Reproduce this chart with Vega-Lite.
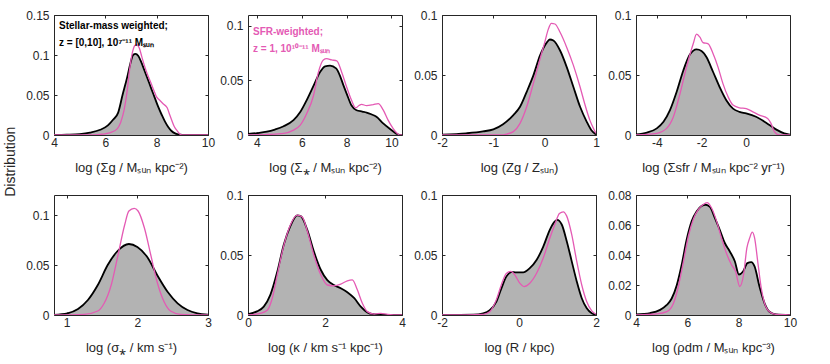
{
"$schema": "https://vega.github.io/schema/vega-lite/v6.json",
"background": "white",
"padding": {"left": 4, "top": 8, "right": 5, "bottom": 5},
"title": {"text": "Distribution", "orient": "left", "anchor": "middle", "fontSize": 14, "fontWeight": "normal", "font": "Liberation Sans", "color": "#262626", "offset": 7, "dx": 20},
"columns": 4,
"spacing": {"row": 60, "column": 40},
"bounds": "flush",
"datasets": {
"p1": [
{"s":"m","x":4.0,"y":0},{"s":"m","x":4.5,"y":0.0004},{"s":"m","x":5.0,"y":0.0012},{"s":"m","x":5.4,"y":0.003},{"s":"m","x":5.8,"y":0.0065},{"s":"m","x":6.1,"y":0.012},{"s":"m","x":6.3,"y":0.019},{"s":"m","x":6.5,"y":0.028},{"s":"m","x":6.67,"y":0.05},{"s":"m","x":6.85,"y":0.072},{"s":"m","x":6.98,"y":0.09},{"s":"m","x":7.08,"y":0.1},{"s":"m","x":7.18,"y":0.1015},{"s":"m","x":7.28,"y":0.099},{"s":"m","x":7.4,"y":0.091},{"s":"m","x":7.52,"y":0.081},{"s":"m","x":7.65,"y":0.07},{"s":"m","x":7.79,"y":0.058},{"s":"m","x":7.92,"y":0.047},{"s":"m","x":8.05,"y":0.036},{"s":"m","x":8.2,"y":0.025},{"s":"m","x":8.32,"y":0.017},{"s":"m","x":8.45,"y":0.01},{"s":"m","x":8.58,"y":0.005},{"s":"m","x":8.72,"y":0.002},{"s":"m","x":8.85,"y":0.0008},{"s":"m","x":9.0,"y":0.0002},{"s":"m","x":10.0,"y":0},
{"s":"s","x":4.0,"y":0},{"s":"s","x":5.5,"y":0},{"s":"s","x":5.8,"y":0.0008},{"s":"s","x":6.0,"y":0.0015},{"s":"s","x":6.2,"y":0.003},{"s":"s","x":6.47,"y":0.008},{"s":"s","x":6.6,"y":0.016},{"s":"s","x":6.73,"y":0.031},{"s":"s","x":6.85,"y":0.055},{"s":"s","x":6.93,"y":0.078},{"s":"s","x":7.06,"y":0.104},{"s":"s","x":7.15,"y":0.112},{"s":"s","x":7.22,"y":0.113},{"s":"s","x":7.33,"y":0.108},{"s":"s","x":7.42,"y":0.098},{"s":"s","x":7.52,"y":0.087},{"s":"s","x":7.65,"y":0.075},{"s":"s","x":7.79,"y":0.064},{"s":"s","x":7.9,"y":0.055},{"s":"s","x":7.99,"y":0.048},{"s":"s","x":8.1,"y":0.044},{"s":"s","x":8.25,"y":0.039},{"s":"s","x":8.41,"y":0.034},{"s":"s","x":8.5,"y":0.026},{"s":"s","x":8.58,"y":0.019},{"s":"s","x":8.68,"y":0.011},{"s":"s","x":8.78,"y":0.006},{"s":"s","x":8.88,"y":0.002},{"s":"s","x":8.98,"y":0},{"s":"s","x":10.0,"y":0}
],
"p2": [
{"s":"m","x":3.6,"y":0.001},{"s":"m","x":4.0,"y":0.0018},{"s":"m","x":4.44,"y":0.003},{"s":"m","x":4.8,"y":0.005},{"s":"m","x":5.19,"y":0.008},{"s":"m","x":5.63,"y":0.0136},{"s":"m","x":5.93,"y":0.021},{"s":"m","x":6.22,"y":0.032},{"s":"m","x":6.52,"y":0.045},{"s":"m","x":6.81,"y":0.0576},{"s":"m","x":7.04,"y":0.063},{"s":"m","x":7.26,"y":0.0636},{"s":"m","x":7.53,"y":0.061},{"s":"m","x":7.7,"y":0.0545},{"s":"m","x":7.85,"y":0.046},{"s":"m","x":8.0,"y":0.038},{"s":"m","x":8.22,"y":0.027},{"s":"m","x":8.44,"y":0.0227},{"s":"m","x":8.7,"y":0.0215},{"s":"m","x":8.89,"y":0.0206},{"s":"m","x":9.1,"y":0.019},{"s":"m","x":9.33,"y":0.0167},{"s":"m","x":9.63,"y":0.0106},{"s":"m","x":10.0,"y":0.0045},{"s":"m","x":10.2,"y":0.0015},{"s":"m","x":10.37,"y":0},{"s":"m","x":10.47,"y":0},
{"s":"s","x":3.6,"y":0},{"s":"s","x":4.5,"y":0.0005},{"s":"s","x":5.19,"y":0.0015},{"s":"s","x":5.63,"y":0.0045},{"s":"s","x":5.93,"y":0.009},{"s":"s","x":6.22,"y":0.0197},{"s":"s","x":6.52,"y":0.036},{"s":"s","x":6.74,"y":0.0576},{"s":"s","x":6.96,"y":0.0688},{"s":"s","x":7.11,"y":0.07},{"s":"s","x":7.33,"y":0.0688},{"s":"s","x":7.56,"y":0.068},{"s":"s","x":7.78,"y":0.0576},{"s":"s","x":8.0,"y":0.044},{"s":"s","x":8.22,"y":0.0318},{"s":"s","x":8.41,"y":0.0248},{"s":"s","x":8.55,"y":0.027},{"s":"s","x":8.67,"y":0.028},{"s":"s","x":8.89,"y":0.027},{"s":"s","x":9.19,"y":0.0279},{"s":"s","x":9.41,"y":0.0288},{"s":"s","x":9.63,"y":0.023},{"s":"s","x":9.85,"y":0.0136},{"s":"s","x":10.07,"y":0.006},{"s":"s","x":10.25,"y":0.0015},{"s":"s","x":10.37,"y":0},{"s":"s","x":10.47,"y":0}
],
"p3": [
{"s":"m","x":-2.0,"y":0.0003},{"s":"m","x":-1.53,"y":0.0014},{"s":"m","x":-1.2,"y":0.003},{"s":"m","x":-1.0,"y":0.0047},{"s":"m","x":-0.81,"y":0.009},{"s":"m","x":-0.61,"y":0.0166},{"s":"m","x":-0.48,"y":0.0235},{"s":"m","x":-0.35,"y":0.036},{"s":"m","x":-0.22,"y":0.0497},{"s":"m","x":-0.09,"y":0.0663},{"s":"m","x":0.04,"y":0.077},{"s":"m","x":0.1,"y":0.0796},{"s":"m","x":0.17,"y":0.0787},{"s":"m","x":0.3,"y":0.0704},{"s":"m","x":0.43,"y":0.0566},{"s":"m","x":0.56,"y":0.04},{"s":"m","x":0.69,"y":0.0235},{"s":"m","x":0.82,"y":0.011},{"s":"m","x":0.91,"y":0.004},{"s":"m","x":1.0,"y":0.0005},
{"s":"s","x":-2.0,"y":0},{"s":"s","x":-0.87,"y":0},{"s":"s","x":-0.74,"y":0.0008},{"s":"s","x":-0.61,"y":0.0028},{"s":"s","x":-0.48,"y":0.0097},{"s":"s","x":-0.35,"y":0.0235},{"s":"s","x":-0.22,"y":0.043},{"s":"s","x":-0.09,"y":0.0635},{"s":"s","x":0.0,"y":0.077},{"s":"s","x":0.07,"y":0.088},{"s":"s","x":0.13,"y":0.093},{"s":"s","x":0.2,"y":0.0925},{"s":"s","x":0.3,"y":0.0856},{"s":"s","x":0.43,"y":0.073},{"s":"s","x":0.56,"y":0.058},{"s":"s","x":0.69,"y":0.04},{"s":"s","x":0.78,"y":0.026},{"s":"s","x":0.88,"y":0.0124},{"s":"s","x":0.95,"y":0.0055},{"s":"s","x":1.0,"y":0.0014}
],
"p4": [
{"s":"m","x":-4.93,"y":0.0005},{"s":"m","x":-4.44,"y":0.002},{"s":"m","x":-4.0,"y":0.0055},{"s":"m","x":-3.7,"y":0.011},{"s":"m","x":-3.41,"y":0.0207},{"s":"m","x":-3.11,"y":0.036},{"s":"m","x":-2.81,"y":0.054},{"s":"m","x":-2.52,"y":0.067},{"s":"m","x":-2.22,"y":0.0713},{"s":"m","x":-2.0,"y":0.07},{"s":"m","x":-1.78,"y":0.065},{"s":"m","x":-1.48,"y":0.0525},{"s":"m","x":-1.19,"y":0.04},{"s":"m","x":-0.89,"y":0.029},{"s":"m","x":-0.59,"y":0.022},{"s":"m","x":-0.3,"y":0.0193},{"s":"m","x":0.0,"y":0.018},{"s":"m","x":0.44,"y":0.0152},{"s":"m","x":0.89,"y":0.0102},{"s":"m","x":1.33,"y":0.0047},{"s":"m","x":1.7,"y":0.0014},{"s":"m","x":1.96,"y":0.0003},
{"s":"s","x":-4.93,"y":0},{"s":"s","x":-4.0,"y":0.0014},{"s":"s","x":-3.56,"y":0.0055},{"s":"s","x":-3.26,"y":0.015},{"s":"s","x":-2.96,"y":0.0345},{"s":"s","x":-2.67,"y":0.0566},{"s":"s","x":-2.37,"y":0.076},{"s":"s","x":-2.22,"y":0.084},{"s":"s","x":-2.07,"y":0.0815},{"s":"s","x":-1.93,"y":0.077},{"s":"s","x":-1.7,"y":0.076},{"s":"s","x":-1.48,"y":0.0677},{"s":"s","x":-1.26,"y":0.0566},{"s":"s","x":-1.04,"y":0.0428},{"s":"s","x":-0.81,"y":0.0318},{"s":"s","x":-0.59,"y":0.0249},{"s":"s","x":-0.3,"y":0.0227},{"s":"s","x":0.0,"y":0.022},{"s":"s","x":0.3,"y":0.0193},{"s":"s","x":0.59,"y":0.0166},{"s":"s","x":0.96,"y":0.0138},{"s":"s","x":1.11,"y":0.0097},{"s":"s","x":1.26,"y":0.0028},{"s":"s","x":1.48,"y":0},{"s":"s","x":1.96,"y":0}
],
"p5": [
{"s":"m","x":0.82,"y":0.0002},{"s":"m","x":1.01,"y":0.0017},{"s":"m","x":1.16,"y":0.006},{"s":"m","x":1.3,"y":0.015},{"s":"m","x":1.44,"y":0.03},{"s":"m","x":1.58,"y":0.05},{"s":"m","x":1.72,"y":0.064},{"s":"m","x":1.88,"y":0.071},{"s":"m","x":2.0,"y":0.068},{"s":"m","x":2.14,"y":0.058},{"s":"m","x":2.28,"y":0.04},{"s":"m","x":2.43,"y":0.023},{"s":"m","x":2.57,"y":0.0117},{"s":"m","x":2.71,"y":0.005},{"s":"m","x":2.85,"y":0.0017},{"s":"m","x":3.0,"y":0.0003},
{"s":"s","x":0.82,"y":0},{"s":"s","x":1.25,"y":0.0007},{"s":"s","x":1.44,"y":0.004},{"s":"s","x":1.53,"y":0.0117},{"s":"s","x":1.63,"y":0.03},{"s":"s","x":1.72,"y":0.058},{"s":"s","x":1.82,"y":0.09},{"s":"s","x":1.88,"y":0.104},{"s":"s","x":1.955,"y":0.1067},{"s":"s","x":2.01,"y":0.104},{"s":"s","x":2.1,"y":0.087},{"s":"s","x":2.19,"y":0.06},{"s":"s","x":2.28,"y":0.033},{"s":"s","x":2.38,"y":0.013},{"s":"s","x":2.47,"y":0.004},{"s":"s","x":2.61,"y":0.0007},{"s":"s","x":3.0,"y":0}
],
"p6": [
{"s":"m","x":0.0,"y":0.0006},{"s":"m","x":0.23,"y":0.003},{"s":"m","x":0.41,"y":0.007},{"s":"m","x":0.58,"y":0.0168},{"s":"m","x":0.76,"y":0.036},{"s":"m","x":0.93,"y":0.0587},{"s":"m","x":1.1,"y":0.074},{"s":"m","x":1.28,"y":0.083},{"s":"m","x":1.37,"y":0.0824},{"s":"m","x":1.54,"y":0.071},{"s":"m","x":1.71,"y":0.053},{"s":"m","x":1.89,"y":0.0377},{"s":"m","x":2.06,"y":0.029},{"s":"m","x":2.23,"y":0.025},{"s":"m","x":2.41,"y":0.0223},{"s":"m","x":2.58,"y":0.019},{"s":"m","x":2.76,"y":0.014},{"s":"m","x":2.93,"y":0.007},{"s":"m","x":3.1,"y":0.0022},{"s":"m","x":3.28,"y":0.0006},{"s":"m","x":4.0,"y":0},
{"s":"s","x":0.0,"y":0},{"s":"s","x":0.32,"y":0.0014},{"s":"s","x":0.5,"y":0.004},{"s":"s","x":0.63,"y":0.014},{"s":"s","x":0.76,"y":0.0335},{"s":"s","x":0.93,"y":0.058},{"s":"s","x":1.1,"y":0.075},{"s":"s","x":1.28,"y":0.0832},{"s":"s","x":1.41,"y":0.0816},{"s":"s","x":1.54,"y":0.07},{"s":"s","x":1.71,"y":0.05},{"s":"s","x":1.89,"y":0.0335},{"s":"s","x":2.06,"y":0.025},{"s":"s","x":2.23,"y":0.0243},{"s":"s","x":2.41,"y":0.0257},{"s":"s","x":2.58,"y":0.0285},{"s":"s","x":2.71,"y":0.0293},{"s":"s","x":2.84,"y":0.021},{"s":"s","x":2.97,"y":0.0098},{"s":"s","x":3.1,"y":0.0028},{"s":"s","x":3.28,"y":0.0008},{"s":"s","x":3.45,"y":0.0014},{"s":"s","x":3.63,"y":0.0006},{"s":"s","x":4.0,"y":0}
],
"p7": [
{"s":"m","x":-2.0,"y":0},{"s":"m","x":-1.19,"y":0.0003},{"s":"m","x":-0.93,"y":0.0014},{"s":"m","x":-0.76,"y":0.004},{"s":"m","x":-0.59,"y":0.011},{"s":"m","x":-0.46,"y":0.022},{"s":"m","x":-0.33,"y":0.032},{"s":"m","x":-0.2,"y":0.0358},{"s":"m","x":-0.07,"y":0.0355},{"s":"m","x":0.11,"y":0.0355},{"s":"m","x":0.28,"y":0.039},{"s":"m","x":0.46,"y":0.046},{"s":"m","x":0.63,"y":0.057},{"s":"m","x":0.8,"y":0.071},{"s":"m","x":0.93,"y":0.078},{"s":"m","x":0.99,"y":0.0793},{"s":"m","x":1.11,"y":0.0754},{"s":"m","x":1.24,"y":0.0615},{"s":"m","x":1.37,"y":0.0447},{"s":"m","x":1.5,"y":0.028},{"s":"m","x":1.63,"y":0.014},{"s":"m","x":1.76,"y":0.0056},{"s":"m","x":1.89,"y":0.0014},{"s":"m","x":2.0,"y":0.0003},
{"s":"s","x":-2.0,"y":0},{"s":"s","x":-0.93,"y":0.0006},{"s":"s","x":-0.76,"y":0.0028},{"s":"s","x":-0.59,"y":0.0126},{"s":"s","x":-0.46,"y":0.025},{"s":"s","x":-0.33,"y":0.0346},{"s":"s","x":-0.21,"y":0.0363},{"s":"s","x":-0.11,"y":0.0335},{"s":"s","x":0.02,"y":0.0265},{"s":"s","x":0.13,"y":0.0237},{"s":"s","x":0.28,"y":0.0265},{"s":"s","x":0.46,"y":0.035},{"s":"s","x":0.63,"y":0.0475},{"s":"s","x":0.8,"y":0.064},{"s":"s","x":0.93,"y":0.0754},{"s":"s","x":1.05,"y":0.0846},{"s":"s","x":1.15,"y":0.086},{"s":"s","x":1.24,"y":0.0824},{"s":"s","x":1.37,"y":0.067},{"s":"s","x":1.5,"y":0.0447},{"s":"s","x":1.63,"y":0.025},{"s":"s","x":1.76,"y":0.011},{"s":"s","x":1.89,"y":0.0034},{"s":"s","x":2.0,"y":0.0006}
],
"p8": [
{"s":"m","x":4.0,"y":0.0004},{"s":"m","x":4.55,"y":0.0013},{"s":"m","x":4.94,"y":0.0034},{"s":"m","x":5.2,"y":0.0067},{"s":"m","x":5.39,"y":0.011},{"s":"m","x":5.59,"y":0.02},{"s":"m","x":5.78,"y":0.0335},{"s":"m","x":5.97,"y":0.05},{"s":"m","x":6.17,"y":0.0626},{"s":"m","x":6.36,"y":0.069},{"s":"m","x":6.55,"y":0.0726},{"s":"m","x":6.72,"y":0.0735},{"s":"m","x":6.88,"y":0.072},{"s":"m","x":7.07,"y":0.0648},{"s":"m","x":7.26,"y":0.057},{"s":"m","x":7.46,"y":0.048},{"s":"m","x":7.65,"y":0.0425},{"s":"m","x":7.85,"y":0.0358},{"s":"m","x":8.01,"y":0.027},{"s":"m","x":8.17,"y":0.029},{"s":"m","x":8.34,"y":0.0346},{"s":"m","x":8.49,"y":0.0353},{"s":"m","x":8.62,"y":0.0324},{"s":"m","x":8.81,"y":0.019},{"s":"m","x":9.01,"y":0.0078},{"s":"m","x":9.2,"y":0.0022},{"s":"m","x":9.46,"y":0.0004},{"s":"m","x":10.0,"y":0},
{"s":"s","x":4.0,"y":0},{"s":"s","x":4.81,"y":0.0007},{"s":"s","x":5.2,"y":0.0022},{"s":"s","x":5.46,"y":0.0078},{"s":"s","x":5.65,"y":0.019},{"s":"s","x":5.85,"y":0.0358},{"s":"s","x":6.04,"y":0.0525},{"s":"s","x":6.23,"y":0.0637},{"s":"s","x":6.43,"y":0.0704},{"s":"s","x":6.62,"y":0.0737},{"s":"s","x":6.77,"y":0.0749},{"s":"s","x":6.94,"y":0.0715},{"s":"s","x":7.14,"y":0.0626},{"s":"s","x":7.33,"y":0.0514},{"s":"s","x":7.52,"y":0.0413},{"s":"s","x":7.72,"y":0.0335},{"s":"s","x":7.88,"y":0.029},{"s":"s","x":8.04,"y":0.019},{"s":"s","x":8.19,"y":0.0268},{"s":"s","x":8.32,"y":0.0447},{"s":"s","x":8.43,"y":0.0514},{"s":"s","x":8.53,"y":0.0552},{"s":"s","x":8.62,"y":0.0514},{"s":"s","x":8.75,"y":0.0346},{"s":"s","x":8.88,"y":0.0179},{"s":"s","x":9.01,"y":0.0078},{"s":"s","x":9.2,"y":0.0022},{"s":"s","x":9.46,"y":0.0004},{"s":"s","x":9.78,"y":0.0002},{"s":"s","x":10.0,"y":0}
]
},
"concat": [
{"width":154,"height":120,"data":{"name":"p1"},
 "title":{"text":["Stellar-mass weighted;","z = [0,10], 10⁷⁻¹¹ Mₛᵤₙ"],"orient":"top","anchor":"start","frame":"group","offset":-39,"dx":5,"fontSize":10,"fontWeight":"bold","font":"Liberation Sans","lineHeight":17,"color":"#000000"},
 "layer":[
  {"transform":[{"filter":"datum.s=='m'"}],"mark":{"type":"area","color":"#b3b3b3","interpolate":"monotone","clip":true},
   "encoding":{"x":{"field":"x","type":"quantitative","scale":{"domain":[4,10],"nice":false,"zero":false},"axis":{"values":[4,6,8,10],"title":"log (Σg / Mₛᵤₙ kpc⁻²)","labelExpr":"''+datum.value"}},
   "y":{"field":"y","type":"quantitative","scale":{"domain":[0,0.15],"nice":false},"axis":{"values":[0,0.05,0.1,0.15],"title":null,"labelExpr":"''+datum.value"}}}},
  {"transform":[{"filter":"datum.s=='m'"}],"mark":{"type":"line","color":"#000000","strokeWidth":1.8,"interpolate":"monotone","clip":true},
   "encoding":{"x":{"field":"x","type":"quantitative","axis":null},"y":{"field":"y","type":"quantitative","axis":null}}},
  {"transform":[{"filter":"datum.s=='s'"}],"mark":{"type":"line","color":"#e45ab4","strokeWidth":1.3,"interpolate":"monotone","clip":true},
   "encoding":{"x":{"field":"x","type":"quantitative","axis":{"orient":"top","values":[4,6,8,10],"labels":false,"title":null}},"y":{"field":"y","type":"quantitative","axis":{"orient":"right","values":[0,0.05,0.1,0.15],"labels":false,"title":null}}}}
 ],
 "resolve":{"axis":{"x":"independent","y":"independent"}}},
{"width":154,"height":120,"data":{"name":"p2"},
 "title":{"text":["SFR-weighted;","z = 1, 10¹⁰⁻¹¹ Mₛᵤₙ"],"orient":"top","anchor":"start","frame":"group","offset":-39,"dx":5,"fontSize":10,"fontWeight":"bold","font":"Liberation Sans","lineHeight":17,"color":"#e45ab4"},
 "layer":[
  {"transform":[{"filter":"datum.s=='m'"}],"mark":{"type":"area","color":"#b3b3b3","interpolate":"monotone","clip":true},
   "encoding":{"x":{"field":"x","type":"quantitative","scale":{"domain":[3.6,10.47],"nice":false,"zero":false},"axis":{"values":[4,6,8,10],"title":"log (Σ⁎ / Mₛᵤₙ kpc⁻²)","labelExpr":"''+datum.value"}},
   "y":{"field":"y","type":"quantitative","scale":{"domain":[0,0.11],"nice":false},"axis":{"values":[0,0.05,0.1],"title":null,"labelExpr":"''+datum.value"}}}},
  {"transform":[{"filter":"datum.s=='m'"}],"mark":{"type":"line","color":"#000000","strokeWidth":1.8,"interpolate":"monotone","clip":true},
   "encoding":{"x":{"field":"x","type":"quantitative","axis":null},"y":{"field":"y","type":"quantitative","axis":null}}},
  {"transform":[{"filter":"datum.s=='s'"}],"mark":{"type":"line","color":"#e45ab4","strokeWidth":1.3,"interpolate":"monotone","clip":true},
   "encoding":{"x":{"field":"x","type":"quantitative","axis":{"orient":"top","values":[4,6,8,10],"labels":false,"title":null}},"y":{"field":"y","type":"quantitative","axis":{"orient":"right","values":[0,0.05,0.1],"labels":false,"title":null}}}}
 ],
 "resolve":{"axis":{"x":"independent","y":"independent"}}},
{"width":154,"height":120,"data":{"name":"p3"},
 "layer":[
  {"transform":[{"filter":"datum.s=='m'"}],"mark":{"type":"area","color":"#b3b3b3","interpolate":"monotone","clip":true},
   "encoding":{"x":{"field":"x","type":"quantitative","scale":{"domain":[-2,1],"nice":false,"zero":false},"axis":{"values":[-2,-1,0,1],"title":"log (Zg / Zₛᵤₙ)","labelExpr":"''+datum.value"}},
   "y":{"field":"y","type":"quantitative","scale":{"domain":[0,0.1],"nice":false},"axis":{"values":[0,0.05,0.1],"title":null,"labelExpr":"''+datum.value"}}}},
  {"transform":[{"filter":"datum.s=='m'"}],"mark":{"type":"line","color":"#000000","strokeWidth":1.8,"interpolate":"monotone","clip":true},
   "encoding":{"x":{"field":"x","type":"quantitative","axis":null},"y":{"field":"y","type":"quantitative","axis":null}}},
  {"transform":[{"filter":"datum.s=='s'"}],"mark":{"type":"line","color":"#e45ab4","strokeWidth":1.3,"interpolate":"monotone","clip":true},
   "encoding":{"x":{"field":"x","type":"quantitative","axis":{"orient":"top","values":[-2,-1,0,1],"labels":false,"title":null}},"y":{"field":"y","type":"quantitative","axis":{"orient":"right","values":[0,0.05,0.1],"labels":false,"title":null}}}}
 ],
 "resolve":{"axis":{"x":"independent","y":"independent"}}},
{"width":154,"height":120,"data":{"name":"p4"},
 "layer":[
  {"transform":[{"filter":"datum.s=='m'"}],"mark":{"type":"area","color":"#b3b3b3","interpolate":"monotone","clip":true},
   "encoding":{"x":{"field":"x","type":"quantitative","scale":{"domain":[-4.93,1.96],"nice":false,"zero":false},"axis":{"values":[-4,-2,0],"title":"log (Σsfr / Mₛᵤₙ kpc⁻² yr⁻¹)","labelExpr":"''+datum.value"}},
   "y":{"field":"y","type":"quantitative","scale":{"domain":[0,0.1],"nice":false},"axis":{"values":[0,0.05,0.1],"title":null,"labelExpr":"''+datum.value"}}}},
  {"transform":[{"filter":"datum.s=='m'"}],"mark":{"type":"line","color":"#000000","strokeWidth":1.8,"interpolate":"monotone","clip":true},
   "encoding":{"x":{"field":"x","type":"quantitative","axis":null},"y":{"field":"y","type":"quantitative","axis":null}}},
  {"transform":[{"filter":"datum.s=='s'"}],"mark":{"type":"line","color":"#e45ab4","strokeWidth":1.3,"interpolate":"monotone","clip":true},
   "encoding":{"x":{"field":"x","type":"quantitative","axis":{"orient":"top","values":[-4,-2,0],"labels":false,"title":null}},"y":{"field":"y","type":"quantitative","axis":{"orient":"right","values":[0,0.05,0.1],"labels":false,"title":null}}}}
 ],
 "resolve":{"axis":{"x":"independent","y":"independent"}}},
{"width":154,"height":120,"data":{"name":"p5"},
 "layer":[
  {"transform":[{"filter":"datum.s=='m'"}],"mark":{"type":"area","color":"#b3b3b3","interpolate":"monotone","clip":true},
   "encoding":{"x":{"field":"x","type":"quantitative","scale":{"domain":[0.82,3],"nice":false,"zero":false},"axis":{"values":[1,2,3],"title":"log (σ⁎ / km s⁻¹)","labelExpr":"''+datum.value"}},
   "y":{"field":"y","type":"quantitative","scale":{"domain":[0,0.12],"nice":false},"axis":{"values":[0,0.05,0.1],"title":null,"labelExpr":"''+datum.value"}}}},
  {"transform":[{"filter":"datum.s=='m'"}],"mark":{"type":"line","color":"#000000","strokeWidth":1.8,"interpolate":"monotone","clip":true},
   "encoding":{"x":{"field":"x","type":"quantitative","axis":null},"y":{"field":"y","type":"quantitative","axis":null}}},
  {"transform":[{"filter":"datum.s=='s'"}],"mark":{"type":"line","color":"#e45ab4","strokeWidth":1.3,"interpolate":"monotone","clip":true},
   "encoding":{"x":{"field":"x","type":"quantitative","axis":{"orient":"top","values":[1,2,3],"labels":false,"title":null}},"y":{"field":"y","type":"quantitative","axis":{"orient":"right","values":[0,0.05,0.1],"labels":false,"title":null}}}}
 ],
 "resolve":{"axis":{"x":"independent","y":"independent"}}},
{"width":154,"height":120,"data":{"name":"p6"},
 "layer":[
  {"transform":[{"filter":"datum.s=='m'"}],"mark":{"type":"area","color":"#b3b3b3","interpolate":"monotone","clip":true},
   "encoding":{"x":{"field":"x","type":"quantitative","scale":{"domain":[0,4],"nice":false,"zero":false},"axis":{"values":[0,2,4],"title":"log (κ / km s⁻¹ kpc⁻¹)","labelExpr":"''+datum.value"}},
   "y":{"field":"y","type":"quantitative","scale":{"domain":[0,0.1],"nice":false},"axis":{"values":[0,0.05,0.1],"title":null,"labelExpr":"''+datum.value"}}}},
  {"transform":[{"filter":"datum.s=='m'"}],"mark":{"type":"line","color":"#000000","strokeWidth":1.8,"interpolate":"monotone","clip":true},
   "encoding":{"x":{"field":"x","type":"quantitative","axis":null},"y":{"field":"y","type":"quantitative","axis":null}}},
  {"transform":[{"filter":"datum.s=='s'"}],"mark":{"type":"line","color":"#e45ab4","strokeWidth":1.3,"interpolate":"monotone","clip":true},
   "encoding":{"x":{"field":"x","type":"quantitative","axis":{"orient":"top","values":[0,2,4],"labels":false,"title":null}},"y":{"field":"y","type":"quantitative","axis":{"orient":"right","values":[0,0.05,0.1],"labels":false,"title":null}}}}
 ],
 "resolve":{"axis":{"x":"independent","y":"independent"}}},
{"width":154,"height":120,"data":{"name":"p7"},
 "layer":[
  {"transform":[{"filter":"datum.s=='m'"}],"mark":{"type":"area","color":"#b3b3b3","interpolate":"monotone","clip":true},
   "encoding":{"x":{"field":"x","type":"quantitative","scale":{"domain":[-2,2],"nice":false,"zero":false},"axis":{"values":[-2,0,2],"title":"log (R / kpc)","labelExpr":"''+datum.value"}},
   "y":{"field":"y","type":"quantitative","scale":{"domain":[0,0.1],"nice":false},"axis":{"values":[0,0.05,0.1],"title":null,"labelExpr":"''+datum.value"}}}},
  {"transform":[{"filter":"datum.s=='m'"}],"mark":{"type":"line","color":"#000000","strokeWidth":1.8,"interpolate":"monotone","clip":true},
   "encoding":{"x":{"field":"x","type":"quantitative","axis":null},"y":{"field":"y","type":"quantitative","axis":null}}},
  {"transform":[{"filter":"datum.s=='s'"}],"mark":{"type":"line","color":"#e45ab4","strokeWidth":1.3,"interpolate":"monotone","clip":true},
   "encoding":{"x":{"field":"x","type":"quantitative","axis":{"orient":"top","values":[-2,0,2],"labels":false,"title":null}},"y":{"field":"y","type":"quantitative","axis":{"orient":"right","values":[0,0.05,0.1],"labels":false,"title":null}}}}
 ],
 "resolve":{"axis":{"x":"independent","y":"independent"}}},
{"width":154,"height":120,"data":{"name":"p8"},
 "layer":[
  {"transform":[{"filter":"datum.s=='m'"}],"mark":{"type":"area","color":"#b3b3b3","interpolate":"monotone","clip":true},
   "encoding":{"x":{"field":"x","type":"quantitative","scale":{"domain":[4,10],"nice":false,"zero":false},"axis":{"values":[4,6,8,10],"title":"log (ρdm / Mₛᵤₙ kpc⁻³)","labelExpr":"''+datum.value"}},
   "y":{"field":"y","type":"quantitative","scale":{"domain":[0,0.08],"nice":false},"axis":{"values":[0,0.02,0.04,0.06,0.08],"title":null,"labelExpr":"''+datum.value"}}}},
  {"transform":[{"filter":"datum.s=='m'"}],"mark":{"type":"line","color":"#000000","strokeWidth":1.8,"interpolate":"monotone","clip":true},
   "encoding":{"x":{"field":"x","type":"quantitative","axis":null},"y":{"field":"y","type":"quantitative","axis":null}}},
  {"transform":[{"filter":"datum.s=='s'"}],"mark":{"type":"line","color":"#e45ab4","strokeWidth":1.3,"interpolate":"monotone","clip":true},
   "encoding":{"x":{"field":"x","type":"quantitative","axis":{"orient":"top","values":[4,6,8,10],"labels":false,"title":null}},"y":{"field":"y","type":"quantitative","axis":{"orient":"right","values":[0,0.02,0.04,0.06,0.08],"labels":false,"title":null}}}}
 ],
 "resolve":{"axis":{"x":"independent","y":"independent"}}}
],
"config": {
 "view": {"stroke": "#262626", "strokeWidth": 1},
 "axis": {"labelFont": "Liberation Sans", "labelFontSize": 12, "labelColor": "#262626", "titleFont": "Liberation Sans", "titleFontSize": 13, "titleFontWeight": "normal", "titleColor": "#262626", "domain": false, "grid": false, "tickSize": -3, "tickColor": "#262626", "tickWidth": 1, "labelFlush": false, "labelOverlap": false},
 "axisX": {"labelPadding": 5.5, "titlePadding": 13},
 "axisY": {"labelPadding": 8}
}
}
